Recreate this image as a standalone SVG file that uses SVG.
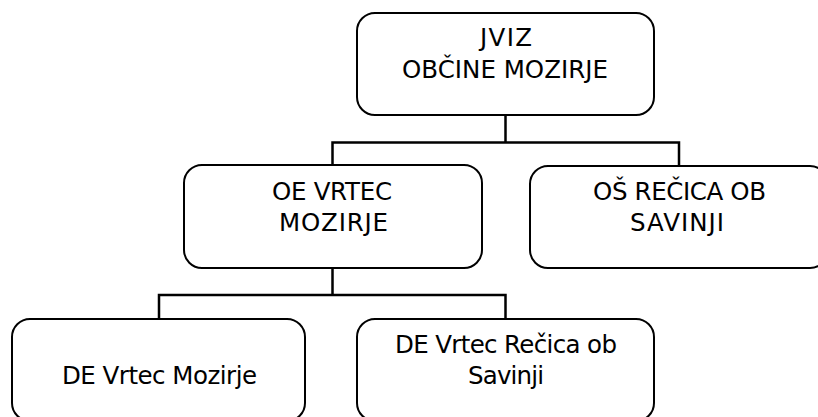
<svg xmlns="http://www.w3.org/2000/svg" width="818" height="417" viewBox="0 0 818 417">
<style>
.box{fill:#fff;stroke:#000;stroke-width:2}
.conn{fill:none;stroke:#000;stroke-width:2.5}
text{font-family:"DejaVu Sans","Verdana",sans-serif;font-size:24.5px;fill:#000;text-anchor:middle}
</style>
<rect width="818" height="417" fill="#fff"/>
<g id="connectors">
<path class="conn" d="M505.5 115V142.5M332.5 165V142.5H679V166"/>
<path class="conn" d="M332.5 268V295M159 319V295H505.5V319"/>
</g>
<g id="jviz">
<rect class="box" x="357" y="13" width="297" height="102" rx="18"/>
<text x="506" y="46" textLength="52">JVIZ</text>
<text x="505" y="78" textLength="206">OBČINE MOZIRJE</text>
</g>
<g id="oe-vrtec">
<rect class="box" x="184" y="165" width="298" height="103" rx="18"/>
<text x="332" y="200" textLength="120">OE VRTEC</text>
<text x="333.5" y="231" textLength="109">MOZIRJE</text>
</g>
<g id="os-recica">
<rect class="box" x="530" y="166" width="298" height="102" rx="18"/>
<text x="679.5" y="200" textLength="173">OŠ REČICA OB</text>
<text x="677" y="231" textLength="94">SAVINJI</text>
</g>
<g id="de-mozirje">
<rect class="box" x="12" y="319" width="293" height="102" rx="18"/>
<text x="159.5" y="384" textLength="195">DE Vrtec Mozirje</text>
</g>
<g id="de-recica">
<rect class="box" x="357" y="319" width="297" height="102" rx="18"/>
<text x="506" y="353" textLength="222">DE Vrtec Rečica ob</text>
<text x="506" y="384" textLength="76">Savinji</text>
</g>
</svg>
